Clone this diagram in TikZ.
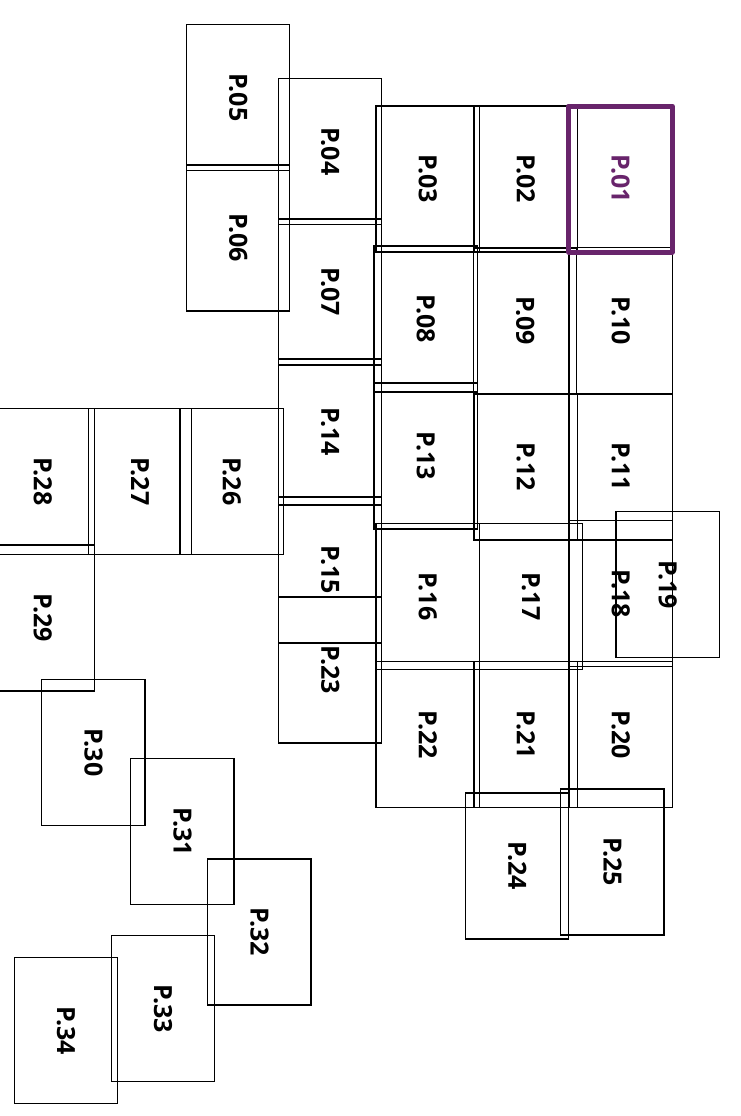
\documentclass[tikz,border=0pt]{standalone}
\usepackage{fontspec}
\setmainfont{Open Sans}
\definecolor{selpurple}{HTML}{68246B}
\tikzset{
  pbox/.style={draw=black, line width=1.2pt, minimum width=103.3pt, minimum height=146pt,
    inner sep=0pt, font=\fontsize{25}{25}\selectfont\bfseries, text=black},
  selbox/.style={pbox, draw=selpurple, line width=5pt, line join=round, text=selpurple}
}
\newcommand{\pb}[5][pbox]{\node[#1] (#2) at (#3,#4) {\rotatebox{-90}{#5}};}
\begin{document}
\begin{tikzpicture}[x=1pt,y=-1pt]
\useasboundingbox (0,0) rectangle (740,1116);
\clip (0,0) rectangle (740,1116);
\pb{p02}{525.7}{179}{P.02}
\pb{p03}{427.7}{179}{P.03}
\pb{p04}{330.2}{151.3}{P.04}
\pb{p05}{238.2}{97.3}{P.05}
\pb{p06}{238.2}{238}{P.06}
\pb{p07}{330.2}{292}{P.07}
\pb{p08}{425.7}{319}{P.08}
\pb{p09}{525.2}{321}{P.09}
\pb{p10}{620.7}{320.7}{P.10}
\pb{p11}{620.7}{467}{P.11}
\pb{p12}{525.7}{467}{P.12}
\pb{p13}{425.7}{456}{P.13}
\pb{p14}{330.2}{432}{P.14}
\pb{p15}{330.2}{570}{P.15}
\pb{p16}{427.7}{596.3}{P.16}
\pb{p17}{531}{596.3}{P.17}
\pb{p18}{620.7}{593.7}{P.18}
\pb{p19}{667.7}{584.7}{P.19}
\pb{p20}{620.7}{734.7}{P.20}
\pb{p21}{525.7}{734.7}{P.21}
\pb{p22}{427.7}{734.7}{P.22}
\pb{p23}{330.2}{670}{P.23}
\pb{p24}{517.2}{866}{P.24}
\pb{p25}{612.4}{862}{P.25}
\pb{p26}{231.7}{481.3}{P.26}
\pb{p27}{140}{481.3}{P.27}
\pb{p28}{42.7}{481.3}{P.28}
\pb{p29}{42.7}{618}{P.29}
\pb{p30}{93.4}{752.3}{P.30}
\pb{p31}{182.4}{831.7}{P.31}
\pb{p32}{259.4}{932}{P.32}
\pb{p33}{163}{1008.7}{P.33}
\pb{p34}{66}{1030.7}{P.34}
\pb[selbox]{p01}{620.5}{179}{P.01}
\end{tikzpicture}
\end{document}
